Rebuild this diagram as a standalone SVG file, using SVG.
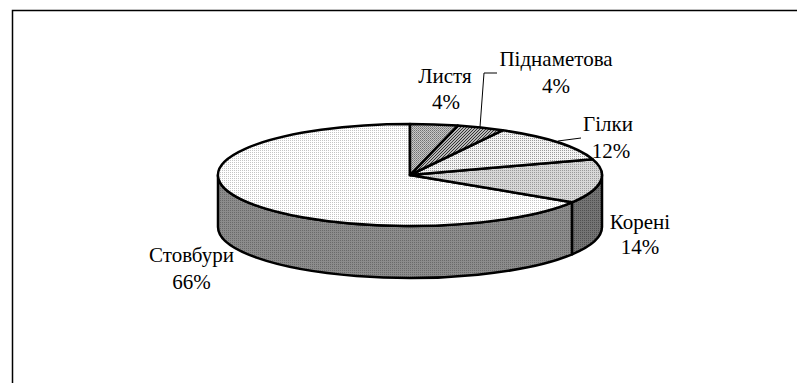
<svg xmlns="http://www.w3.org/2000/svg" width="797" height="383" viewBox="0 0 797 383">
<style>
.lbl{font-family:"Liberation Serif","Times New Roman",serif;font-size:21px;fill:#000;text-anchor:middle}
.edge{stroke:#000;stroke-width:2.5;stroke-linejoin:round}
.lead{fill:none;stroke:#000;stroke-width:1}
</style>
<defs>
<pattern id="pStovTop" width="2" height="2" patternUnits="userSpaceOnUse"><rect width="2" height="2" fill="#fff"/><rect width="1" height="1" fill="#c4c4c4"/></pattern>
<pattern id="pGilky" width="2" height="2" patternUnits="userSpaceOnUse"><rect width="2" height="2" fill="#f4f4f4"/><rect width="1" height="1" fill="#9a9a9a"/></pattern>
<pattern id="pKoreniTop" width="2" height="2" patternUnits="userSpaceOnUse"><rect width="2" height="2" fill="#d8d8d8"/><rect width="1" height="1" fill="#9a9a9a"/></pattern>
<pattern id="pLystia" width="2" height="2" patternUnits="userSpaceOnUse"><rect width="2" height="2" fill="#c8c8c8"/><rect width="1" height="1" fill="#707070"/><rect x="1" y="1" width="1" height="1" fill="#909090"/></pattern>
<pattern id="pPidn" width="3" height="3" patternUnits="userSpaceOnUse"><rect width="3" height="3" fill="#b8b8b8"/><rect x="0" y="2" width="1" height="1" fill="#333"/><rect x="1" y="1" width="1" height="1" fill="#333"/><rect x="2" y="0" width="1" height="1" fill="#333"/></pattern>
<pattern id="pStovSide" width="2" height="2" patternUnits="userSpaceOnUse"><rect width="2" height="2" fill="#8c8c8c"/><rect width="1" height="1" fill="#6a6a6a"/></pattern>
<pattern id="pKoreniSide" width="2" height="2" patternUnits="userSpaceOnUse"><rect width="2" height="2" fill="#747474"/><rect width="1" height="1" fill="#505050"/></pattern>
</defs>
<rect width="797" height="383" fill="#fff"/>
<path d="M12.5,383 L12.5,10.5 L797,10.5" fill="none" stroke="#000" stroke-width="1.5"/>
<g id="slice-stovbury">
<path class="edge" fill="url(#pStovSide)" d="M572.1,202.3 A192 51 0 0 1 218,175 L218,227 A192 51 0 0 0 572.1,254.3 Z"/>
<path class="edge" fill="url(#pStovTop)" d="M410,175 L572.1,202.3 A192 51 0 1 1 410,124 Z"/>
</g>
<g id="slice-koreni">
<path class="edge" fill="url(#pKoreniSide)" d="M602,175 A192 51 0 0 1 572.1,202.3 L572.1,254.3 A192 51 0 0 0 602,227 Z"/>
<path class="edge" fill="url(#pKoreniTop)" d="M410,175 L592.6,159.2 A192 51 0 0 1 572.1,202.3 Z"/>
</g>
<g id="slice-gilky">
<path class="edge" fill="url(#pGilky)" d="M410,175 L502.5,130.3 A192 51 0 0 1 592.6,159.2 Z"/>
</g>
<g id="slice-pidnametova">
<path class="edge" fill="url(#pPidn)" d="M410,175 L457.7,125.6 A192 51 0 0 1 502.5,130.3 Z"/>
</g>
<g id="slice-lystia">
<path class="edge" fill="url(#pLystia)" d="M410,175 L410,124 A192 51 0 0 1 457.7,125.6 Z"/>
</g>
<g id="connectors">
<polyline class="lead" points="497,73 484,73 480,127"/>
<polyline class="lead" points="558,141 581,138"/>
</g>
<g id="label-lystia"><text class="lbl" x="445" y="83">Листя</text><text class="lbl" x="446" y="109">4%</text></g>
<g id="label-pidnametova"><text class="lbl" x="556" y="66">Піднаметова</text><text class="lbl" x="556" y="93">4%</text></g>
<g id="label-gilky"><text class="lbl" x="608" y="131">Гілки</text><text class="lbl" x="611" y="158">12%</text></g>
<g id="label-koreni"><text class="lbl" x="640" y="229">Корені</text><text class="lbl" x="640" y="254">14%</text></g>
<g id="label-stovbury"><text class="lbl" x="191.5" y="262">Стовбури</text><text class="lbl" x="191.5" y="289">66%</text></g>
</svg>
